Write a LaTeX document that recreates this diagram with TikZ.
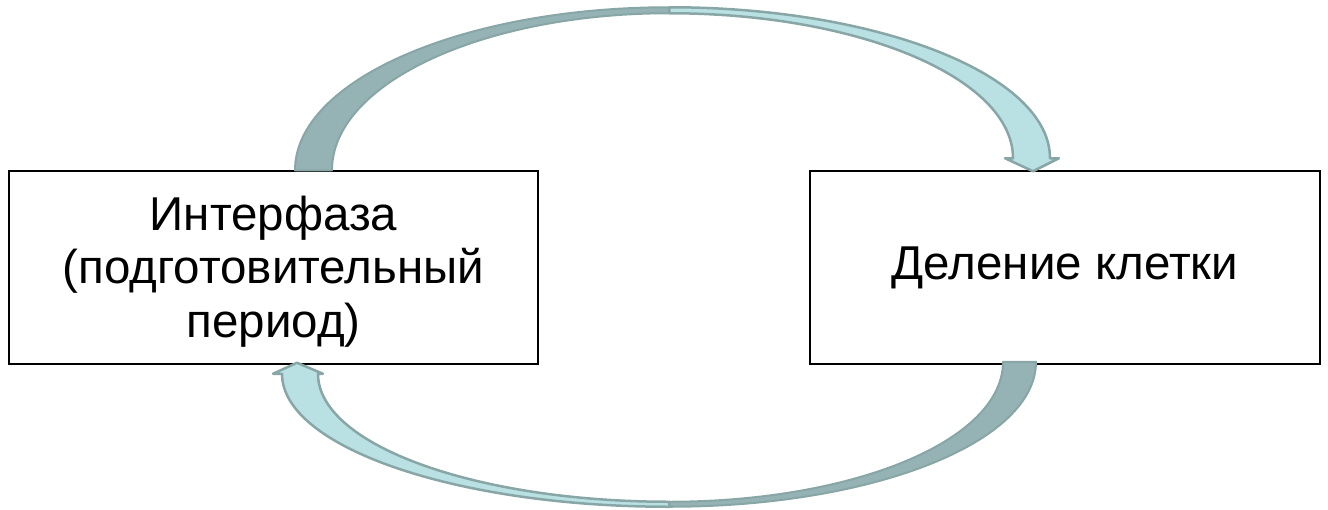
\documentclass[tikz,border=0pt]{standalone}
\usepackage{fontspec}
\setmainfont{Liberation Sans}
\usepackage{tikz}
\usetikzlibrary{positioning,calc}
\definecolor{cyclegrey}{HTML}{95B3B4}
\definecolor{cycleedge}{HTML}{89A6A7}
\definecolor{cycleblue}{HTML}{B9E0E3}

\begin{document}
\begin{tikzpicture}[x=1pt,y=-1pt,font=\fontsize{47.5}{53.5}\selectfont]
\tikzstyle{phase}=[draw=black,line width=1.5pt,minimum width=529,
  minimum height=193,align=center,inner sep=0pt]
\tikzstyle{backside}=[fill=cyclegrey,draw=cycleedge,line width=2pt,line join=round]
\tikzstyle{frontside}=[fill=cycleblue,draw=cycleedge,line width=2.5pt,line join=round]
\useasboundingbox (0,0) rectangle (1328,509);

\node[phase] (inter) at (273.5,267.5) {\rule{0pt}{42pt}Интерфаза\\(подготовительный\\период)};
\node[phase,minimum width=510] (div) at (1065,267.5) {Деление клетки};

% top arrow: interphase -> division
\coordinate (tA) at ([xshift=21.5pt]inter.north);
\coordinate (tB) at ([xshift=58.5pt]inter.north);
\coordinate (pA) at ([yshift=163pt]$(inter.north)!.5!(div.north)$);
\coordinate (pB) at ([yshift=157pt]$(inter.north)!.5!(div.north)$);
\coordinate (hA) at ([xshift=-15pt,yshift=12pt]div.north);
\coordinate (hB) at ([xshift=-52pt,yshift=12pt]div.north);
\coordinate (tip1) at ([xshift=-32pt,yshift=-1pt]div.north);
\draw[backside] (tA) .. controls +(0,-90) and +(-206,0) .. (pA)
  -- (pB) .. controls +(-186,0) and +(0,-87) .. (tB) -- cycle;
\draw[frontside] (pA) .. controls +(210,0) and +(0,-83) .. (hA)
  -- ++(9,0) -- (tip1) -- ([xshift=-60pt,yshift=12pt]div.north)
  -- (hB) .. controls +(0,-80) and +(190,0) .. (pB) -- cycle;

% bottom arrow: division -> interphase
\coordinate (sA) at ([xshift=-29pt,yshift=3pt]div.south);
\coordinate (sB) at ([xshift=-62pt,yshift=3pt]div.south);
\coordinate (qA) at ([yshift=-142pt]$(inter.south)!.5!(div.south)$);
\coordinate (qB) at ([yshift=-137pt]$(inter.south)!.5!(div.south)$);
\coordinate (lA) at ([xshift=8.5pt,yshift=-9pt]inter.south);
\coordinate (lB) at ([xshift=44.5pt,yshift=-9pt]inter.south);
\coordinate (tip2) at ([xshift=23.5pt,yshift=2pt]inter.south);
\draw[backside] (sA) .. controls +(0,81) and +(203,0) .. (qA)
  -- (qB) .. controls +(184,0) and +(0,79) .. (sB) -- cycle;
\draw[frontside] (qA) .. controls +(-214,0) and +(0,73) .. (lA)
  -- ++(-9,0) -- (tip2) -- ([xshift=49.5pt,yshift=-9pt]inter.south)
  -- (lB) .. controls +(0,71) and +(-194,0) .. (qB) -- cycle;
\end{tikzpicture}
\end{document}
